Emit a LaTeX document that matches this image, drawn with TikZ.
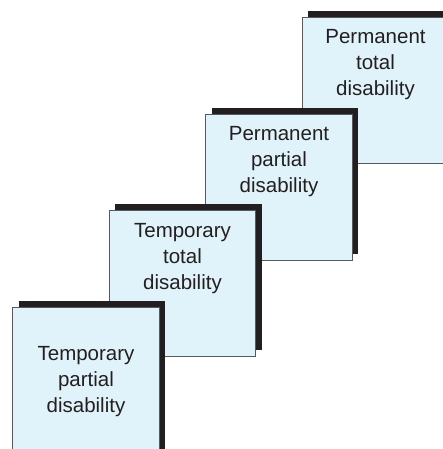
\documentclass[tikz,border=0pt]{standalone}
\usepackage{fontspec}
\setmainfont{Liberation Sans}
\usetikzlibrary{shadows}
\definecolor{boxfill}{HTML}{E0F3FB}
\definecolor{boxline}{HTML}{58595B}
\definecolor{shadowc}{HTML}{231F20}
\definecolor{textc}{HTML}{231F20}
\begin{document}
\begin{tikzpicture}[x=1pt,y=-1pt,
  stepbox/.style={draw=boxline, line width=0.8pt, fill=boxfill,
    minimum width=146.5pt, minimum height=146pt, inner sep=0pt,
    general shadow={fill=shadowc, shadow xshift=6pt, shadow yshift=6pt}},
  label/.style={align=center, text=textc, font=\fontsize{20.5}{26}\selectfont, inner sep=0pt}]
\useasboundingbox (0,0) rectangle (443,449);
\begin{scope}
\clip (0,0) rectangle (443,449);
\node[stepbox] (b1) at (375.5,90) {};
\node[label] (t1) at (375.5,65) {Permanent\\total\\disability};
\node[stepbox] (b2) at (279,187) {};
\node[label] (t2) at (279,162) {Permanent\\partial\\disability};
\node[stepbox] (b3) at (182.5,283) {};
\node[label] (t3) at (182.5,259) {Temporary\\total\\disability};
\node[stepbox, minimum height=156pt] (b4) at (86,385) {};
\node[label] (t4) at (86,382) {Temporary\\partial\\disability};
\end{scope}
\end{tikzpicture}
\end{document}
